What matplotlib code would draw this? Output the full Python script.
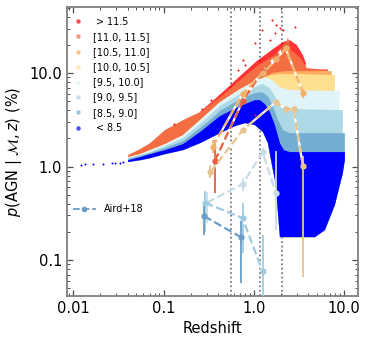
import numpy as np
import matplotlib
matplotlib.use("Agg")
from matplotlib import pyplot as plt
from matplotlib.lines import Line2D

# stellar-mass bins (log M*) and their colours
bin_labels = [" > 11.5", "[11.0, 11.5]", "[10.5, 11.0]", "[10.0, 10.5]",
              "[9.5, 10.0]", "[9.0, 9.5]", "[8.5, 9.0]", " < 8.5"]
bin_colors = ["#ff0000", "#f46d43", "#fdae61", "#fee090",
              "#e0f3f8", "#add8e6", "#74add1", "#0000ff"]

# lower edge shared by the model bands (redshift, p in %)
edge_z = [0.0406, 0.0551, 0.0711, 0.1041, 0.1646, 0.2538, 0.4223, 0.6186, 0.798, 1.029,
          1.262, 1.433, 1.587, 1.713, 1.803, 1.897, 1.946, 4.745, 6.119, 7.896, 9.67, 10.18]
edge_p = [1.12, 1.17, 1.23, 1.36, 1.50, 1.78, 2.28, 2.71, 2.92, 2.78,
          2.34, 1.78, 1.04, 0.717, 0.438, 0.237, 0.176, 0.176, 0.209, 0.388, 0.852, 1.17]

# upper edge of every band
red_z = [0.2538, 0.3718, 0.505, 0.7026, 1.083, 1.628, 2.100, 2.509, 3.0, 3.494, 3.772]
red_p = [3.85, 5.3, 6.9, 9.3, 13.5, 18.1, 21.5, 22.5, 19.9, 15.6, 12.8]

orange_z = [0.0406, 0.0551, 0.0711, 0.1041, 0.1646, 0.2538, 0.4559, 0.7026, 1.083, 1.628,
            2.21, 2.385, 2.575, 3.237, 3.87, 5.388, 6.605]
orange_p = [1.33, 1.54, 1.78, 2.46, 3.14, 3.83, 5.82, 8.42, 11.9, 15.2,
            18.1, 24.3, 17.6, 14.8, 11.3, 11.0, 11.0]

peach_z = [0.0406, 0.0551, 0.0711, 0.1041, 0.1646, 0.2538, 0.3273, 0.4223, 0.7026, 1.029,
           1.328, 1.587, 2.21, 7.313]
peach_p = [1.26, 1.36, 1.50, 1.74, 2.17, 3.14, 3.92, 4.90, 6.74, 8.21,
           9.06, 10.0, 10.5, 10.5]

yellow_z = [0.0406, 0.0551, 0.0711, 0.1041, 0.1646, 0.2538, 0.3273, 0.4223, 0.7026, 1.029,
            1.328, 1.508, 1.946, 3.237, 7.896]
yellow_p = [1.26, 1.36, 1.50, 1.74, 2.17, 3.14, 3.92, 4.90, 6.74, 8.21,
            9.06, 9.52, 9.76, 9.76, 9.52]

vlb_z = [0.0406, 0.0551, 0.0711, 0.1041, 0.1646, 0.2538, 0.3273, 0.4223, 0.7026, 1.029,
         1.328, 1.587, 1.946, 2.509, 8.97]
vlb_p = [1.26, 1.36, 1.50, 1.74, 2.17, 3.14, 3.92, 4.90, 6.74, 8.21,
         9.06, 8.42, 7.09, 6.58, 6.42]

lb_z = [0.0406, 0.0551, 0.0711, 0.1041, 0.1646, 0.2538, 0.3273, 0.4223, 0.7026, 1.029,
        1.262, 1.508, 1.757, 2.048, 2.509, 9.67]
lb_p = [1.23, 1.33, 1.43, 1.66, 2.02, 2.85, 3.56, 4.44, 5.96, 7.09,
        7.63, 6.91, 5.40, 4.44, 4.12, 4.02]

mb_z = [0.0406, 0.0551, 0.0711, 0.1041, 0.1646, 0.2538, 0.3273, 0.4223, 0.7026, 1.029,
        1.230, 1.433, 1.628, 1.849, 2.100, 2.509, 10.18]
mb_p = [1.20, 1.30, 1.39, 1.58, 1.87, 2.58, 3.14, 3.92, 5.27, 6.11,
        6.26, 5.68, 4.44, 3.14, 2.46, 2.28, 2.28]

blue_z = [0.0406, 0.0551, 0.0711, 0.1041, 0.1646, 0.2538, 0.3273, 0.4223, 0.7026, 1.029,
          1.169, 1.328, 1.508, 1.713, 1.946, 2.154, 2.509, 10.18]
blue_p = [1.17, 1.26, 1.36, 1.50, 1.74, 2.34, 2.85, 3.47, 4.44, 5.14,
          5.14, 4.66, 3.83, 2.78, 1.78, 1.50, 1.43, 1.43]

# stray galaxies outside the dense bands
red_dot_z = [0.1309, 0.2670, 0.3357, 0.6677, 0.7584, 0.798, 1.029, 1.029, 1.230, 1.508,
             1.587, 1.713, 1.757, 1.946, 2.100, 2.850]
red_dot_p = [2.85, 4.12, 5.14, 10.8, 13.8, 12.2, 20.9, 3.56, 28.8, 22.5,
             36.9, 26.8, 32.6, 30.3, 28.8, 31.0]
blue_dot_z = [0.01217, 0.01358, 0.01664, 0.0214, 0.0270, 0.0292, 0.0331, 0.0357]
blue_dot_p = [1.04, 1.06, 1.06, 1.06, 1.09, 1.09, 1.09, 1.12]

# Aird+18 measurements
aird_z = [[0.37, 0.75, 1.25, 1.75, 2.25],
          [0.35, 0.75, 1.25, 1.75, 2.25, 3.5],
          [0.33, 0.75, 1.75, 2.25, 2.75, 3.5],
          [0.30, 0.75, 1.25, 1.75],
          [0.29, 0.75, 1.25],
          [0.28, 0.72]]
aird_p = [[1.15, 5.0, 10.5, 15.0, 20.0],
          [1.62, 6.0, 10.0, 14.0, 18.5, 6.1],
          [0.873, 2.45, 4.90, 4.12, 4.12, 1.01],
          [0.41, 0.65, 1.43, 0.52],
          [0.41, 0.281, 0.076],
          [0.296, 0.176]]
aird_lo = [[0.52, 4.7, 10.0, 14.2, 19.0],
           [1.39, 5.6, 9.5, 13.3, 17.5, 5.4],
           [0.75, 2.3, 4.6, 3.9, 3.9, 0.066],
           [0.25, 0.55, 1.3, 0.209],
           [0.20, 0.12, 0.02],
           [0.185, 0.057]]
aird_hi = [[1.92, 5.3, 11.0, 15.8, 21.0],
           [1.92, 6.4, 10.5, 14.7, 19.5, 6.8],
           [1.04, 2.6, 5.2, 4.4, 4.4, 1.3],
           [0.53, 0.75, 1.6, 1.46],
           [0.55, 0.41, 0.185],
           [0.41, 0.26]]
aird_colors = ["#e8603c", "#f0b26a", "#e6c48f", "#c6dce6", "#9fcbe0", "#6a9cc8"]

zbounds = [0.56, 1.16, 2.03]


def band(ax, uz, up, color, alpha=1.0):
    ez, ep = np.array(edge_z), np.array(edge_p)
    keep = (ez >= uz[0]) & (ez <= uz[-1])
    zz = np.concatenate([uz, ez[keep][::-1]])
    pp = np.concatenate([up, ep[keep][::-1]])
    ax.fill(zz, pp, color=color, alpha=alpha, lw=0, zorder=2)


fig = plt.figure(figsize=(3.69, 3.40), dpi=100)
ax = fig.add_axes([0.181, 0.130, 0.789, 0.849])
ax.set_xscale("log")
ax.set_yscale("log")

for zb in zbounds:
    ax.axvline(zb, color="0.4", ls=":", lw=1.2, zorder=1)

uppers = [(red_z, red_p), (orange_z, orange_p), (peach_z, peach_p), (yellow_z, yellow_p),
          (vlb_z, vlb_p), (lb_z, lb_p), (mb_z, mb_p), (blue_z, blue_p)]
for i, ((uz, up), c) in enumerate(zip(uppers, bin_colors)):
    band(ax, uz, up, c, alpha=0.8 if i == 0 else 1.0)

ax.scatter(red_dot_z, red_dot_p, s=2, color="#ff0000", lw=0, zorder=3)
ax.scatter(blue_dot_z, blue_dot_p, s=2, color="#0000ff", lw=0, zorder=3)

for z, p, lo, hi, c in zip(aird_z, aird_p, aird_lo, aird_hi, aird_colors):
    z, p = np.array(z), np.array(p)
    yerr = [p - np.array(lo), np.array(hi) - p]
    ax.errorbar(z, p, yerr=yerr, fmt="none", ecolor=c, elinewidth=1.3, zorder=4)
    ax.plot(z, p, color="white", lw=1.6, zorder=4)
    ax.plot(z, p, color=c, lw=1.6, ls="--", marker="o", ms=3.5, zorder=5)

ax.set_xlim(0.0085, 14.2)
ax.set_ylim(0.0415, 50.8)
ax.set_xticks([0.01, 0.1, 1.0, 10.0])
ax.set_xticklabels(["0.01", "0.1", "1.0", "10.0"])
ax.set_yticks([0.1, 1.0, 10.0])
ax.set_yticklabels(["0.1", "1.0", "10.0"])
ax.tick_params(which="both", direction="in", top=True, right=True, color="0.3", labelsize=10.5)
ax.tick_params(which="major", length=4.5, width=0.9)
ax.tick_params(which="minor", length=2.5, width=0.7)
for s in ax.spines.values():
    s.set_color("0.5")
    s.set_linewidth(1.3)

ax.set_xlabel("Redshift", fontsize=10.5)
ax.set_ylabel(r"$p(\mathrm{AGN}\ |\ \mathcal{M}, z)$ (%)", fontsize=10.5)

handles = [Line2D([], [], ls="none", marker="o", ms=3.2, color=c, alpha=0.7, mew=0)
           for c in bin_colors]
leg = ax.legend(handles, bin_labels, loc="upper left", bbox_to_anchor=(-0.006, 0.997),
                frameon=False, fontsize=6.9, handlelength=1.0, handletextpad=1.0,
                labelspacing=0.54)
ax.add_artist(leg)

aird_handle = Line2D([], [], color="#6a9cc8", ls="--", marker="o", ms=3, lw=1.3)
ax.legend([aird_handle], ["Aird+18"], loc="center left", bbox_to_anchor=(-0.01, 0.30),
          frameon=False, fontsize=6.9, handlelength=2.5)

fig.savefig("out.png", dpi=100)
